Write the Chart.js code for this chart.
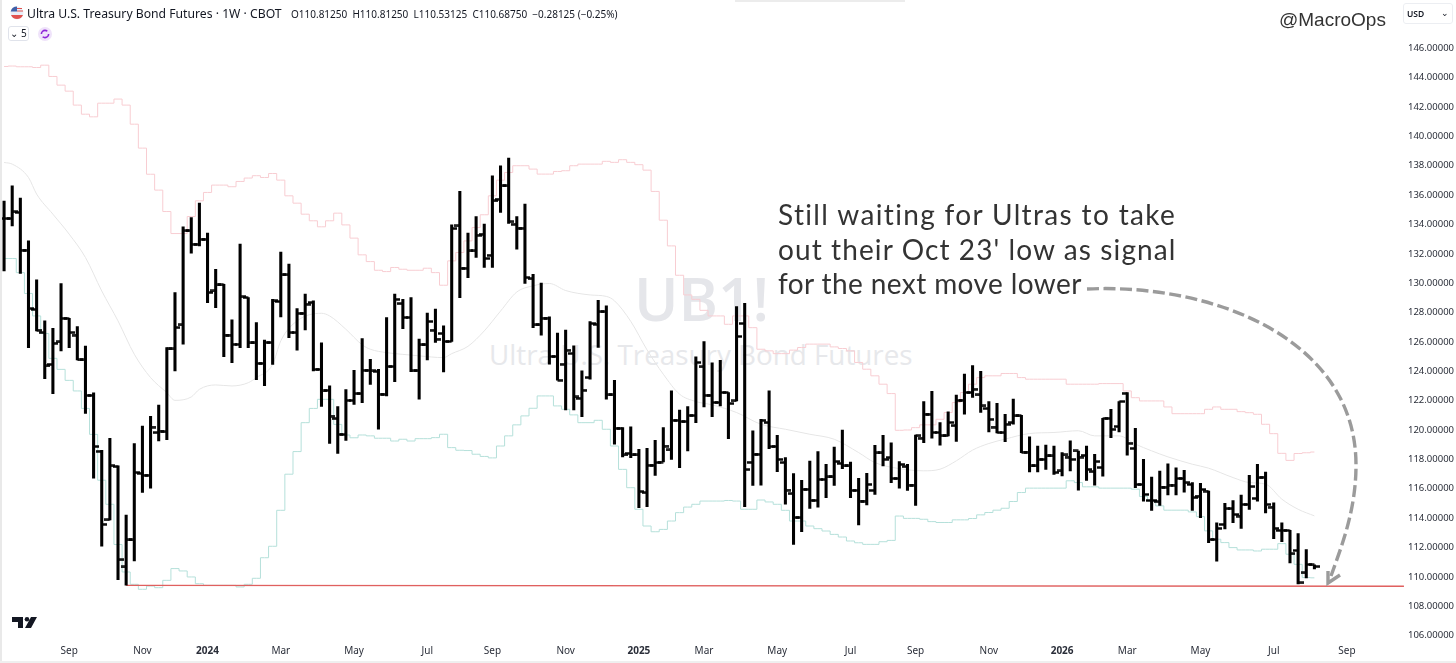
<!DOCTYPE html>
<html>
<head>
<meta charset="utf-8">
<title>UB1! weekly</title>
<script src="https://cdn.jsdelivr.net/npm/chart.js@4"></script>
<style>
  html, body { margin: 0; padding: 0; background: #fff; }
  body { width: 1456px; height: 663px; position: relative; overflow: hidden; font-family: "Noto Sans", sans-serif; color: #131722; }
  #chart { position: absolute; left: 0; top: 0; z-index: 2; }
  .abs { position: absolute; white-space: nowrap; }
  .edge-left { left: 0; top: 0; width: 2px; height: 663px; background: #e9e9e9; z-index: 3; }
  .edge-bottom { left: 0; top: 661px; width: 1456px; height: 2px; background: #efefef; z-index: 3; }
  .edge-top { left: 735px; top: 0; width: 170px; height: 2px; background: #ececec; }
  .wm1 { left: 634px; top: 256px; font-size: 60px; font-weight: 600; line-height: 84px; color: #e5e6ea; font-family: "Open Sans", sans-serif; z-index: 1; }
  .wm2 { left: 489px; top: 335px; font-size: 27.8px; line-height: 38px; color: #e7e8eb; font-family: "Open Sans", sans-serif; z-index: 1; }
  .title { left: 27px; top: 5px; font-size: 12.2px; line-height: 18px; z-index: 3; }
  .ohlc { left: 291px; top: 6px; font-size: 10px; line-height: 16px; z-index: 3; }
  .legend-box { left: 8px; top: 26px; width: 21px; height: 15px; border: 1px solid #e0e3eb; border-radius: 3px; box-sizing: border-box; font-size: 10px; line-height: 13px; text-align: center; z-index: 3; }
  .brand { left: 1279px; top: 8px; font-family: "Liberation Sans", sans-serif; font-size: 19px; line-height: 24px; color: #333; z-index: 3; }
  .usd { left: 1403px; top: 3px; width: 50px; height: 21px; border: 1px solid #eceef2; border-radius: 3px; box-sizing: border-box; font-size: 8.5px; font-weight: 600; line-height: 19px; padding-left: 3px; z-index: 3; }
  .usd span { position: absolute; right: 3px; top: -1px; font-weight: 400; }
  .note { left: 778px; font-family: "Lato", sans-serif; font-size: 28px; line-height: 34px; color: #333; z-index: 3; }
</style>
</head>
<body>
<div class="abs edge-left"></div>
<div class="abs edge-bottom"></div>
<div class="abs edge-top"></div>
<div class="abs wm1">UB1!</div>
<div class="abs wm2">Ultra U.S. Treasury Bond Futures</div>

<canvas id="chart" width="1456" height="663"></canvas>

<svg class="abs" style="left:10px;top:6px;z-index:3" width="14" height="14" viewBox="0 0 14 14">
  <circle cx="7" cy="7" r="6.5" fill="#e8eef8"/>
  <path d="M1 9 h12 a6.5 6.5 0 0 1 -12 0z" fill="#e0524f"/>
  <path d="M0.7 5.5 a6.5 6.5 0 0 1 6.3 -5 v5z" fill="#3f5fa8"/>
  <path d="M7 2.5 h5 M7 5 h6" stroke="#e0524f" stroke-width="1.2"/>
</svg>
<div class="abs title">Ultra U.S. Treasury Bond Futures · 1W · CBOT</div>
<div class="abs ohlc">O110.81250&nbsp; H110.81250&nbsp; L110.53125&nbsp; C110.68750&nbsp; −0.28125 (−0.25%)</div>
<div class="abs legend-box">&#8964; 5</div>
<svg class="abs" style="left:38px;top:27px;z-index:3" width="14" height="14" viewBox="0 0 14 14">
  <circle cx="7" cy="7" r="7" fill="#efe3fa"/>
  <circle cx="7" cy="7" r="3.6" fill="none" stroke="#8e24d8" stroke-width="1.6" stroke-dasharray="8 3"/>
</svg>
<div class="abs brand">@MacroOps</div>
<div class="abs usd">USD<span>&#8964;</span></div>
<div class="abs note" style="top:197px;letter-spacing:1.35px">Still waiting for Ultras to take</div>
<div class="abs note" style="top:232px;letter-spacing:1.1px">out their Oct 23' low as signal</div>
<div class="abs note" style="top:266px;letter-spacing:0.4px">for the next move lower</div>
<svg class="abs" style="left:12px;top:616px;z-index:3" width="25" height="12" viewBox="0 0 25 12">
  <path d="M0 1 h11 v11 h-5 v-6 h-6z M19 1 h6 l-6 11 h-6z" fill="#131722"/>
  <circle cx="15" cy="3.2" r="2.3" fill="#131722"/>
</svg>

<script>
// weekly bars
const barOpen = [
  134.4, 134.4, 134.82, 132.25, 128.22, 126.63, 124.47, 126.0, 127.61, 126.47,
  124.77, 122.36, 118.55, 113.88, 117.5, 110.67, 112.51, 117.05, 116.92, 119.82,
  119.88, 125.52, 127.16, 133.57, 132.66, 133.0, 129.47, 129.88, 126.47, 125.84,
  129.02, 125.93, 124.54, 125.95, 128.75, 130.57, 126.63, 127.95, 128.68, 124.13,
  122.7, 120.77, 119.7, 122.02, 122.47, 124.07, 124.0, 122.44, 124.32, 128.6,
  127.66, 124.03, 125.8, 126.8, 126.57, 126.03, 133.9, 131.02, 132.2, 133.34,
  131.9, 135.72, 136.63, 134.02, 133.75, 130.3, 127.16, 127.62, 125.0, 124.48,
  125.21, 122.16, 123.57, 127.21, 128.05, 122.39, 120.12, 118.41, 118.3, 115.73,
  117.6, 117.82, 118.64, 120.66, 120.57, 120.98, 124.3, 122.37, 121.87, 122.55,
  121.98, 127.25, 117.8, 118.35, 120.5, 118.87, 117.78, 115.66, 114.03, 115.96,
  115.21, 116.64, 116.8, 117.73, 117.55, 115.89, 115.16, 115.89, 118.44, 118.12,
  116.69, 117.5, 116.25, 119.45, 121.08, 119.83, 119.6, 120.29, 122.03, 122.55,
  122.39, 121.46, 120.2, 119.82, 120.5, 120.96, 118.5, 117.55, 118.0, 118.23,
  117.21, 118.16, 118.57, 118.28, 117.16, 117.44, 120.8, 120.23, 122.5, 118.75,
  116.29, 115.2, 115.11, 116.11, 116.25, 116.7, 116.29, 115.5, 115.84, 112.54,
  113.57, 114.64, 114.14, 114.93, 115.34, 116.79, 114.75, 113.16, 113.16, 111.79,
  110.27, 110.81
];
const barHigh = [
  135.6, 136.63, 135.79, 132.88, 130.22, 127.43, 126.93, 129.97, 127.61, 127.04,
  125.72, 122.54, 118.62, 119.43, 117.56, 114.2, 119.08, 120.26, 120.93, 121.7,
  125.61, 129.36, 133.84, 134.47, 135.45, 133.41, 130.95, 129.93, 127.5, 132.66,
  129.02, 127.32, 126.13, 128.9, 132.11, 131.3, 128.27, 129.25, 128.79, 125.93,
  123.0, 121.6, 122.75, 124.07, 126.23, 124.82, 124.13, 127.66, 129.25, 128.9,
  129.02, 126.19, 127.96, 128.23, 127.1, 133.97, 136.25, 133.41, 134.54, 134.02,
  137.32, 138.0, 138.52, 134.54, 135.38, 130.61, 130.0, 127.71, 126.6, 126.8,
  125.73, 124.03, 127.39, 128.84, 128.45, 123.39, 120.16, 120.21, 118.69, 118.75,
  119.3, 120.16, 122.66, 121.35, 121.6, 124.98, 126.03, 124.57, 124.75, 122.55,
  128.41, 128.62, 119.94, 120.73, 122.66, 119.64, 118.12, 117.03, 116.57, 117.89,
  118.53, 117.66, 118.84, 120.0, 117.82, 116.71, 117.05, 118.96, 119.64, 119.12,
  117.85, 117.66, 119.66, 121.94, 122.63, 120.51, 121.24, 122.38, 123.81, 124.38,
  123.99, 121.94, 121.82, 121.07, 122.1, 121.0, 119.53, 118.91, 118.98, 118.91,
  118.46, 119.26, 118.57, 118.91, 118.35, 120.8, 121.41, 121.94, 122.55, 120.11,
  118.0, 116.8, 117.2, 117.7, 117.43, 117.25, 116.41, 116.36, 115.84, 113.68,
  115.0, 115.2, 115.57, 116.91, 117.66, 117.14, 115.04, 113.68, 113.16, 112.95,
  111.86, 110.81
];
const barLow = [
  130.84, 133.9, 130.66, 125.6, 126.75, 123.5, 122.47, 125.38, 125.6, 124.77,
  121.13, 116.72, 112.08, 113.88, 109.8, 109.43, 111.08, 115.74, 116.03, 119.25,
  119.34, 124.02, 125.84, 132.04, 132.54, 128.68, 128.34, 125.0, 124.59, 125.6,
  125.6, 123.43, 123.02, 124.47, 127.7, 126.29, 125.43, 126.82, 124.02, 121.6,
  119.09, 118.4, 119.29, 121.75, 121.86, 123.11, 120.05, 122.32, 123.3, 126.91,
  123.98, 122.1, 124.78, 125.96, 123.96, 126.03, 129.02, 130.38, 131.75, 131.07,
  131.07, 134.82, 134.07, 132.31, 129.98, 126.97, 126.46, 124.48, 123.39, 121.37,
  121.37, 120.91, 123.46, 125.62, 122.1, 119.03, 118.16, 118.12, 114.71, 114.78,
  116.91, 117.82, 118.0, 117.44, 118.57, 120.5, 121.57, 120.91, 121.64, 119.41,
  121.98, 114.78, 116.23, 116.25, 118.73, 117.16, 114.94, 112.21, 113.07, 114.66,
  114.75, 115.39, 116.23, 117.37, 115.39, 113.53, 114.89, 115.62, 117.55, 116.41,
  116.03, 115.89, 114.87, 119.14, 119.45, 118.97, 119.6, 119.22, 121.08, 122.22,
  121.2, 119.87, 119.8, 119.21, 120.39, 118.46, 117.14, 117.14, 117.32, 116.98,
  116.87, 117.21, 115.91, 116.57, 116.25, 116.85, 119.48, 119.87, 118.28, 116.07,
  115.16, 114.52, 114.86, 115.57, 115.57, 115.77, 114.52, 114.02, 112.32, 111.07,
  113.27, 113.68, 113.29, 114.59, 115.16, 114.36, 112.59, 112.39, 110.95, 109.52,
  109.93, 110.53
];
const barClose = [
  134.4, 134.86, 132.25, 128.27, 126.8, 124.36, 125.91, 127.61, 126.63, 124.77,
  122.36, 118.87, 113.58, 117.56, 111.16, 112.51, 117.1, 116.92, 120.2, 119.93,
  125.52, 126.97, 133.57, 132.66, 133.0, 129.36, 129.88, 126.47, 125.84, 129.07,
  125.93, 124.54, 125.95, 128.79, 130.57, 126.63, 127.95, 128.57, 124.13, 122.66,
  120.95, 119.7, 122.02, 122.47, 124.07, 124.02, 122.44, 124.32, 128.9, 127.66,
  124.03, 125.8, 127.39, 126.19, 126.03, 133.72, 131.02, 132.2, 133.27, 131.68,
  135.61, 136.63, 134.18, 133.75, 130.38, 127.16, 127.62, 125.0, 123.39, 125.44,
  122.25, 122.71, 127.25, 128.05, 122.39, 120.12, 118.3, 118.3, 115.8, 117.6,
  117.78, 118.91, 120.66, 120.57, 120.98, 124.6, 122.37, 121.87, 122.55, 121.8,
  126.37, 117.3, 118.35, 120.66, 118.87, 118.0, 115.91, 114.03, 115.96, 115.21,
  116.64, 116.8, 117.85, 117.55, 115.89, 115.16, 116.3, 118.44, 118.0, 116.69,
  117.66, 116.25, 119.6, 121.08, 119.83, 119.6, 120.51, 122.0, 122.55, 122.78,
  121.64, 120.73, 119.82, 120.39, 120.96, 118.5, 117.55, 118.0, 118.23, 117.1,
  118.3, 118.0, 118.16, 117.32, 117.85, 120.8, 120.05, 121.94, 119.1, 116.29,
  115.61, 115.2, 116.11, 116.25, 116.7, 116.41, 115.39, 115.95, 112.54, 113.3,
  114.64, 114.25, 114.93, 116.14, 116.75, 114.93, 113.3, 113.16, 111.57, 109.59,
  110.84, 110.69
];

// pink upper channel, one value a bar
const upperBand = [
  144.76, 144.79, 144.74, 144.74, 144.69, 144.85, 144.08, 143.49, 143.08, 142.13,
  141.51, 141.33, 142.26, 142.26, 142.54, 142.13, 140.83, 139.2, 137.42, 136.34,
  134.88, 133.38, 133.38, 134.54, 135.61, 136.18, 136.68, 136.68, 136.57, 136.93,
  137.16, 137.32, 137.2, 137.47, 137.02, 135.95, 135.45, 134.7, 134.25, 133.84,
  134.25, 134.77, 133.97, 133.07, 131.93, 131.47, 130.88, 130.79, 131.07, 130.95,
  130.88, 130.88, 131.02, 130.72, 129.86, 131.52, 132.09, 132.88, 133.79, 134.66,
  135.95, 137.02, 137.54, 138.0, 138.0, 137.77, 137.43, 137.43, 137.61, 137.66,
  138.0, 138.11, 138.11, 138.11, 138.3, 138.23, 138.41, 138.23, 138.07, 137.7,
  136.25, 134.29, 132.54, 130.54, 129.2, 128.9, 128.15, 127.77, 127.77, 127.2,
  127.77, 127.77, 126.97, 125.5, 125.39, 125.2, 125.2, 125.44, 125.62, 125.85,
  125.85, 125.85, 125.66, 125.55, 125.39, 124.6, 124.14, 123.69, 123.12, 122.48,
  119.98, 120.0, 120.16, 120.35, 120.35, 120.73, 121.19, 121.87, 122.55, 123.12,
  123.57, 123.69, 123.69, 123.85, 123.85, 123.57, 123.46, 123.46, 123.46, 123.46,
  123.46, 123.12, 123.12, 123.12, 123.12, 123.16, 123.16, 123.16, 122.66, 122.2,
  121.98, 121.98, 121.98, 121.57, 121.11, 121.11, 121.11, 121.11, 121.41, 121.57,
  121.41, 121.41, 121.25, 121.18, 121.07, 120.39, 119.75, 118.41, 117.93, 118.4,
  118.45, 118.5
];
// teal lower channel
const lowerBand = [
  131.68, 131.68, 130.72, 129.3, 127.77, 126.57, 124.88, 124.13, 123.38, 122.66,
  121.47, 119.7, 116.58, 114.94, 112.2, 110.33, 109.49, 109.15, 109.37, 109.26,
  109.76, 110.56, 110.4, 109.99, 109.53, 109.42, 109.42, 109.42, 109.42, 109.31,
  109.49, 109.9, 111.3, 112.08, 114.53, 116.99, 118.53, 120.5, 121.47, 122.09,
  122.09, 120.38, 119.66, 119.47, 119.66, 119.6, 119.44, 119.44, 119.25, 119.37,
  119.25, 119.41, 119.41, 119.48, 119.71, 118.8, 118.62, 118.6, 118.35, 118.2,
  118.1, 118.91, 119.6, 120.35, 120.96, 121.48, 122.32, 122.32, 121.64, 121.41,
  121.03, 120.5, 120.5, 120.66, 120.05, 118.91, 117.32, 116.07, 114.6, 113.46,
  113.07, 113.23, 113.8, 114.37, 114.75, 114.94, 115.16, 115.16, 115.16, 115.2,
  115.16, 114.6, 114.6, 115.23, 115.1, 114.94, 114.53, 113.8, 113.8, 113.46,
  113.28, 113.12, 112.89, 112.71, 112.44, 112.32, 112.21, 112.21, 112.39, 112.48,
  114.14, 113.98, 113.98, 113.92, 113.76, 113.7, 113.7, 113.88, 113.88, 113.97,
  114.22, 114.38, 114.54, 114.67, 115.13, 115.74, 116.04, 116.04, 116.04, 116.04,
  116.04, 116.54, 116.42, 116.13, 116.13, 116.04, 116.04, 116.04, 116.04, 115.97,
  115.47, 115.17, 114.83, 114.54, 114.54, 114.54, 114.42, 114.1, 113.13, 112.56,
  112.33, 111.99, 111.83, 111.83, 111.76, 111.88, 111.88, 112.26, 111.54, 110.85,
  109.95, 109.93
];
// grey middle line, read at the bars where it is visible
const midBar = [0, 1, 3, 4, 6, 8, 10, 12, 14, 16, 18, 20, 21, 23, 24, 26, 28, 30, 31, 33, 34, 36, 39, 40, 42, 44, 45, 47, 49, 51, 54, 55, 57, 59, 61, 63, 65, 67, 69, 72, 74, 75, 77, 79, 81, 83, 85, 87, 90, 93, 96, 99, 102, 105, 107, 110, 113, 115, 117, 119, 121, 123, 126, 129, 132, 134, 137, 139, 141, 143, 146, 148, 151, 153, 155, 157, 159, 161];
const midValue = [138.22, 138.11, 137.2, 136.07, 134.7, 133.34, 131.75, 129.47, 127.43, 125.16, 123.57, 122.54, 122.02, 122.25, 122.77, 123.07, 123.0, 123.22, 123.57, 124.47, 126.07, 127.43, 127.95, 127.77, 126.86, 125.8, 125.5, 125.27, 125.15, 125.05, 124.93, 125.2, 125.7, 126.75, 128.1, 129.4, 129.82, 129.98, 129.5, 129.2, 129.1, 128.8, 127.4, 125.46, 123.8, 122.44, 121.94, 121.71, 121.19, 120.39, 120.05, 119.71, 119.37, 118.46, 117.78, 117.37, 117.22, 117.33, 117.9, 118.63, 119.08, 119.38, 119.76, 119.83, 119.95, 119.6, 119.6, 119.04, 118.58, 118.17, 117.67, 117.4, 116.76, 116.42, 116.31, 115.29, 114.6, 114.15];
// red support line: from the Oct 23 low to the right edge
const lowBar = [15, 172];
const lowValue = [109.42, 109.36];

const slotCount = 173;
const xTickBar = [8, 17, 25, 34, 43, 52, 60, 69, 78, 86, 95, 104, 112, 121, 130, 138, 147, 156, 165];
const xTickText = ['Sep', 'Nov', '2024', 'Mar', 'May', 'Jul', 'Sep', 'Nov', '2025', 'Mar', 'May', 'Jul', 'Sep', 'Nov', '2026', 'Mar', 'May', 'Jul', 'Sep'];
const yTicks = [106, 108, 110, 112, 114, 116, 118, 120, 122, 124, 126, 128, 130, 132, 134, 136, 138, 140, 142, 144, 146];

const labels = new Array(slotCount).fill('');
xTickBar.forEach((b, k) => { labels[b] = xTickText[k]; });

function sparse(bars, vals) {
    const out = new Array(slotCount).fill(null);
    bars.forEach((b, k) => { out[b] = vals[k]; });
    return out;
}

// open/close ticks: half of the stamp is empty, so it sticks out on one side only
function tickStamp(side) {
    const c = document.createElement('canvas');
    c.width = 11;
    c.height = 3;
    const g = c.getContext('2d');
    g.fillStyle = '#000';
    g.fillRect(side === 'left' ? 0 : 5.5, 0.3, 5.5, 2.4);
    return c;
}

const arrowPlugin = {
    id: 'arrowNote',
    afterDatasetsDraw(chart) {
        const g = chart.ctx;
        g.save();
        g.strokeStyle = '#9b9b9b';
        g.lineWidth = 3.4;
        g.setLineDash([12, 4.5]);
        g.beginPath();
        g.moveTo(1087, 289);
        g.bezierCurveTo(1215, 283, 1356, 340, 1356, 465);
        g.bezierCurveTo(1356, 510, 1342, 545, 1331, 576);
        g.stroke();
        g.setLineDash([]);
        g.beginPath();
        g.moveTo(1328, 571);
        g.lineTo(1328, 583);
        g.lineTo(1340, 575);
        g.stroke();
        g.restore();
    }
};

new Chart(document.getElementById('chart'), {
    data: {
        labels: labels,
        datasets: [
            { type: 'line', data: upperBand, borderColor: '#f8cdd2', borderWidth: 1, stepped: 'middle', pointRadius: 0, order: 5 },
            { type: 'line', data: lowerBand, borderColor: '#b5e0da', borderWidth: 1, stepped: 'middle', pointRadius: 0, order: 5 },
            { type: 'line', data: sparse(midBar, midValue), borderColor: '#e6e6e6', borderWidth: 1, spanGaps: true, cubicInterpolationMode: 'monotone', pointRadius: 0, order: 5 },
            { type: 'line', data: sparse(lowBar, lowValue), borderColor: '#e0605f', borderWidth: 1.4, spanGaps: true, pointRadius: 0, order: 4 },
            { type: 'bar', data: barLow.map((v, i) => [v, barHigh[i]]), backgroundColor: '#000', barThickness: 2.4, order: 3 },
            { type: 'line', data: barOpen, showLine: false, pointStyle: tickStamp('left'), pointRadius: 3, order: 2 },
            { type: 'line', data: barClose, showLine: false, pointStyle: tickStamp('right'), pointRadius: 3, order: 2 }
        ]
    },
    options: {
        responsive: false,
        animation: false,
        events: [],
        layout: { autoPadding: false, padding: { top: 3.5 } },
        plugins: { legend: { display: false }, tooltip: { enabled: false } },
        scales: {
            x: {
                type: 'category',
                offset: true,
                grid: { display: false, drawTicks: false },
                border: { display: false },
                afterFit(s) { s.height = 21; },
                ticks: {
                    autoSkip: false,
                    maxRotation: 0,
                    padding: 3,
                    color: '#2a2e39',
                    font: ctx => ({ family: 'Noto Sans', size: 10, weight: /^20/.test(ctx.tick.label) ? 'bold' : 'normal' })
                }
            },
            y: {
                position: 'right',
                min: 105.56,
                max: 148.9,
                grid: { display: false, drawTicks: false },
                border: { display: false },
                afterFit(s) { s.width = 48; },
                afterBuildTicks(s) { s.ticks = yTicks.map(v => ({ value: v })); },
                ticks: {
                    padding: 0,
                    color: '#2a2e39',
                    font: { family: 'Noto Sans', size: 9.5 },
                    callback: v => v.toFixed(5)
                }
            }
        }
    },
    plugins: [arrowPlugin]
});
</script>
</body>
</html>
